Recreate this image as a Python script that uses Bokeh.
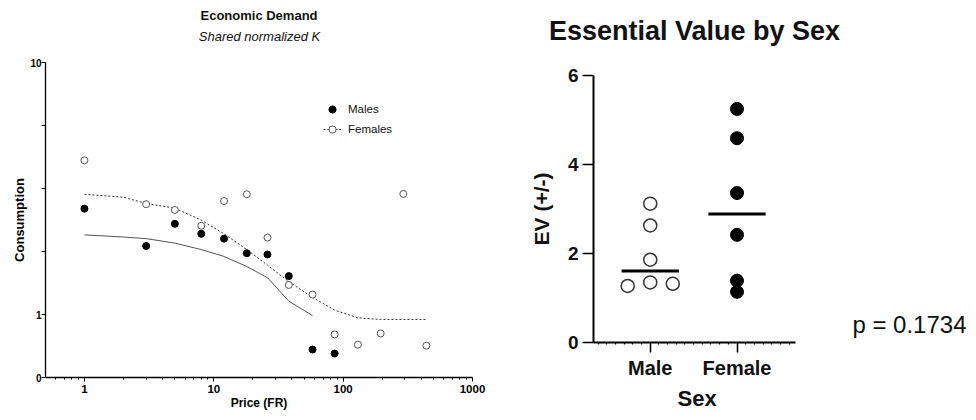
import numpy as np
from jinja2 import Template
from bokeh.plotting import figure
from bokeh.models import (FixedTicker, Legend, LegendItem, Label, Range1d, Title,
                          CustomJSTickFormatter)
from bokeh.embed import file_html
from bokeh.resources import INLINE

FONT = "Liberation Sans"

# ---------------- Economic demand data ----------------
female_price = [1, 3, 5, 8, 12, 18, 26, 38, 58, 86, 130, 195, 292, 440]
female_consumption = [4.09, 2.74, 2.60, 2.25, 2.82, 3.00, 2.02, 1.31, 1.20, 0.834,
                      0.759, 0.841, 3.01, 0.752]
male_price = [1, 3, 5, 8, 12, 18, 26, 38, 58, 86]
male_consumption = [2.63, 1.87, 2.29, 2.09, 2.00, 1.75, 1.73, 1.42, 0.726, 0.700]

female_fit_price = [1, 2, 3, 5, 8, 12, 18, 26, 38, 58, 86, 130, 195, 440]
female_fit = [3.00, 2.92, 2.76, 2.64, 2.37, 2.09, 1.81, 1.57, 1.35, 1.17, 1.04,
              0.97, 0.955, 0.955]
male_fit_price = [1, 2, 3, 5, 8, 12, 18, 26, 38, 58]
male_fit = [2.07, 2.03, 2.00, 1.92, 1.81, 1.70, 1.55, 1.40, 1.13, 0.99]

x_major_ticks = [1, 10, 100, 1000]
y_ticks = [10 ** -0.25, 1, 10 ** 0.25, 10 ** 0.5, 10 ** 0.75, 10]

# ---------------- Essential value data ----------------
sex_groups = ["Male", "Female"]
male_ev = [3.12, 2.63, 1.86, 1.27, 1.35, 1.32]
male_jitter = [0, 0, 0, -0.26, 0, 0.26]
female_ev = [5.25, 4.59, 3.36, 2.42, 1.39, 1.14]
female_jitter = [0, 0, 0, 0, 0, 0]
ev_ticks = [0, 2, 4, 6]
p_text = "p = 0.1734"


def title_strip(width, height):
    f = figure(width=width, height=height, x_range=Range1d(0, 1),
               y_range=Range1d(0, 1), output_backend="svg",
               toolbar_location=None, title=None, min_border=0,
               x_axis_location=None, y_axis_location=None)
    f.outline_line_color = None
    f.grid.visible = False
    return f


# ================= Left chart =================
left_title = title_strip(490, 46)
left_title.add_layout(Label(x=250.5, y=39, x_units="screen", y_units="screen",
                            text="Economic Demand", text_align="center",
                            text_baseline="middle", text_font=FONT,
                            text_font_size="13px", text_font_style="bold",
                            text_color="#111111"))
left_title.add_layout(Label(x=251, y=18, x_units="screen", y_units="screen",
                            text="Shared normalized K", text_align="center",
                            text_baseline="middle", text_font=FONT,
                            text_font_size="13px", text_font_style="italic",
                            text_color="#111111"))

left = figure(width=490, height=358, x_axis_type="log", y_axis_type="log",
              x_range=Range1d(0.5, 1000), y_range=Range1d(10 ** -0.25, 10),
              output_backend="svg", toolbar_location=None, title=None,
              min_border_left=37, min_border_right=26, min_border_top=8,
              min_border_bottom=34)
left.outline_line_color = None
left.grid.visible = False

minor = [m * 10.0 ** e for e in range(-1, 3) for m in range(2, 10)]
minor = [t for t in minor if 0.55 < t < 1000]
left.xaxis.ticker = FixedTicker(ticks=x_major_ticks, minor_ticks=minor)
left.xaxis.formatter = CustomJSTickFormatter(code="return tick.toFixed(0);")
left.yaxis.ticker = FixedTicker(ticks=y_ticks, minor_ticks=[])
left.yaxis.formatter = CustomJSTickFormatter(code="""
if (Math.abs(tick - 10) < 1e-6) return "10";
if (Math.abs(tick - 1) < 1e-6) return "1";
if (tick < 0.6) return "0";
return "";
""")

for ax in (left.xaxis, left.yaxis):
    ax.axis_line_width = 1.3
    ax.axis_line_color = "black"
    ax.major_tick_line_color = "black"
    ax.minor_tick_line_color = "black"
    ax.major_tick_in = 0
    ax.minor_tick_in = 0
    ax.major_tick_out = 4
    ax.minor_tick_out = 2
    ax.major_label_text_font = FONT
    ax.major_label_text_font_style = "bold"
    ax.major_label_text_color = "black"
    ax.axis_label_text_font = FONT
    ax.axis_label_text_font_style = "bold"
    ax.axis_label_text_color = "black"
    ax.axis_label_text_line_height = 0.9
    ax.major_label_text_line_height = 0.9

left.xaxis.major_label_text_font_size = "11.5px"
left.yaxis.major_label_text_font_size = "10px"
left.xaxis.axis_label = "Price (FR)"
left.yaxis.axis_label = "Consumption"
left.xaxis.axis_label_text_font_size = "12px"
left.yaxis.axis_label_text_font_size = "13px"
left.xaxis.major_label_standoff = 3
left.xaxis.axis_label_standoff = 0
left.yaxis.major_label_standoff = 0
left.yaxis.axis_label_standoff = 0

fl = left.line(female_fit_price, female_fit, line_color="#333333", line_width=1,
               line_dash="2 2")
ml = left.line(male_fit_price, male_fit, line_color="#555555", line_width=1)
fr = left.scatter(female_price, female_consumption, marker="circle", size=7,
                  fill_color="white", line_color="#555555", line_width=1)
mr = left.scatter(male_price, male_consumption, marker="circle", size=7,
                  fill_color="black", line_color="black")

legend = Legend(items=[LegendItem(label="Males", renderers=[mr]),
                       LegendItem(label="Females", renderers=[fl, fr])],
                location=(278, 239), padding=0, margin=0, spacing=2,
                glyph_width=18, glyph_height=18, label_height=18,
                label_standoff=7, border_line_color=None,
                background_fill_alpha=0, label_text_font=FONT,
                label_text_font_size="11.5px", label_text_color="#111111")
left.add_layout(legend)

# ================= Right chart =================
right_title = title_strip(470, 57)
right_title.add_layout(Label(x=196, y=34.5, x_units="screen", y_units="screen",
                             text="Essential Value by Sex", text_align="center",
                             text_baseline="middle", text_font=FONT,
                             text_font_size="27px", text_font_style="bold",
                             text_color="#111111"))

right = figure(width=470, height=347, x_range=Range1d(0.346, 4.668),
               y_range=Range1d(0, 6), output_backend="svg",
               toolbar_location=None, title=None,
               min_border_left=95, min_border_right=0, min_border_top=10,
               min_border_bottom=70)
right.outline_line_color = None
right.grid.visible = False

x_minor = [round(0.4 + 0.1 * i, 2) for i in range(23)]
x_minor = [t for t in x_minor if abs(t - 1) > 1e-6 and abs(t - 2) > 1e-6]
right.xaxis.ticker = FixedTicker(ticks=[1, 2], minor_ticks=x_minor)
right.xaxis.formatter = CustomJSTickFormatter(args=dict(labels=sex_groups),
                                              code="return labels[Math.round(tick) - 1] || '';")
right.xaxis.bounds = (0.346, 2.672)
right.yaxis.ticker = FixedTicker(ticks=ev_ticks, minor_ticks=[])

for ax in (right.xaxis, right.yaxis):
    ax.axis_line_width = 2
    ax.axis_line_color = "black"
    ax.major_tick_line_color = "black"
    ax.major_tick_line_width = 1.5
    ax.minor_tick_line_color = "black"
    ax.minor_tick_line_width = 1.2
    ax.major_tick_in = 0
    ax.minor_tick_in = 0
    ax.major_tick_out = 10
    ax.minor_tick_out = 2
    ax.major_label_text_font = FONT
    ax.major_label_text_font_style = "bold"
    ax.major_label_text_color = "#111111"
    ax.axis_label_text_font = FONT
    ax.axis_label_text_font_style = "bold"
    ax.axis_label_text_color = "#111111"

right.yaxis.major_tick_out = 11
right.xaxis.major_label_text_font_size = "20px"
right.yaxis.major_label_text_font_size = "19px"
right.yaxis.axis_label = "EV (+/-)"
right.yaxis.axis_label_text_font_size = "21px"
right.xaxis.major_label_standoff = 4
right.yaxis.major_label_standoff = 4
right.yaxis.axis_label_standoff = 12

male_x = [1 + j for j in male_jitter]
female_x = [2 + j for j in female_jitter]
right.scatter(male_x, male_ev, marker="circle", size=13, fill_color="white",
              line_color="#333333", line_width=1.5)
right.scatter(female_x, female_ev, marker="circle", size=13, fill_color="black",
              line_color="black")

medians = [float(np.median(male_ev)), float(np.median(female_ev))]
centers = [1, 2]
half = 0.33
right.segment(x0=[c - half for c in centers], x1=[c + half for c in centers],
              y0=medians, y1=medians, line_color="black", line_width=3)

right.add_layout(Label(x=3.33, y=0.41, text=p_text, text_baseline="middle",
                       text_align="left", text_font=FONT, text_font_size="24px",
                       text_color="#111111"))
right.add_layout(Title(text="Sex", align="left", offset=84, standoff=4,
                       text_font=FONT, text_font_size="22px",
                       text_font_style="bold", text_color="#111111"), "below")

PAGE = Template("""{% from macros import embed %}
<!DOCTYPE html>
<html lang="en">
<head>
<meta charset="utf-8">
<title>{{ title }}</title>
{{ bokeh_css if bokeh_css }}
{{ bokeh_js if bokeh_js }}
</head>
<body>
{% set r = docs[0].roots %}
<div style="display: flex; flex-direction: row; align-items: flex-start;">
<div style="display: flex; flex-direction: column; align-items: flex-start;">
{{ embed(r[0]) }}
{{ embed(r[1]) }}
</div>
<div style="display: flex; flex-direction: column; align-items: flex-start;">
{{ embed(r[2]) }}
{{ embed(r[3]) }}
</div>
</div>
{{ plot_script }}
</body>
</html>
""")

open("out.html", "w").write(file_html([left_title, left, right_title, right], INLINE,
                                      title="Charts", template=PAGE))
